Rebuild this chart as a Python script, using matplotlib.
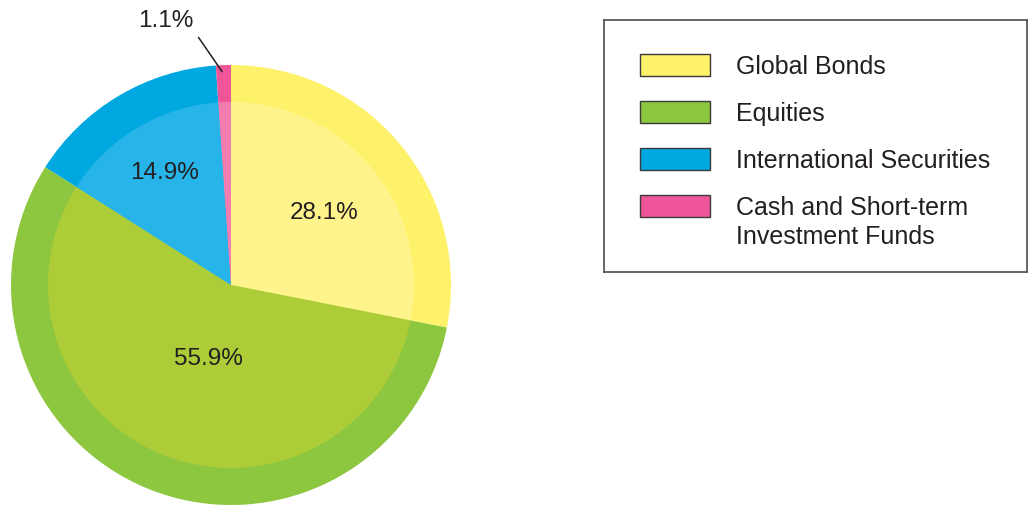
import numpy as np
import matplotlib
matplotlib.use("Agg")
import matplotlib.pyplot as plt
from matplotlib.patches import Rectangle

plt.rcParams["font.family"] = ["Liberation Sans", "DejaVu Sans"]

# Portfolio allocation
categories = ["Global Bonds", "Equities", "International Securities",
              "Cash and Short-term\nInvestment Funds"]
values = [28.1, 55.9, 14.9, 1.1]
pct_labels = ["28.1%", "55.9%", "14.9%", "1.1%"]

outer_colors = ["#FFF26B", "#8DC63F", "#00A8E1", "#EF569A"]
inner_colors = ["#FFF48C", "#ACCD38", "#27B5E9", "#F37DB1"]

W, H = 1028, 507
fig = plt.figure(figsize=(W / 100, H / 100), dpi=100)

# pie axes: centre (231, 285) px, radius 220 px
cx, cy, R = 231, 285, 220
ax = fig.add_axes([(cx - R) / W, (H - cy - R) / H, 2 * R / W, 2 * R / H])

wedge_kw = dict(linewidth=0)
ax.pie(values, colors=outer_colors, startangle=90, counterclock=False,
       radius=1.0, wedgeprops=wedge_kw, frame=True)
inner_r = 183 / 220
ax.pie(values, colors=inner_colors, startangle=90, counterclock=False,
       radius=inner_r, wedgeprops=wedge_kw, frame=True)
ax.set_xlim(-1, 1)
ax.set_ylim(-1, 1)
ax.set_aspect("equal")
ax.axis("off")

# percentage labels, placed along each wedge's bisector
total = sum(values)
label_radius = [0.535, 0.35, 0.59, 1.235]
label_shift = [-2.0, 5.0, 0.0, 12.0]
start = 90.0
mids = []
for v in values:
    span = 360.0 * v / total
    mids.append(start - span / 2)
    start -= span
for lab, m, r, s in zip(pct_labels, mids, label_radius, label_shift):
    a = np.deg2rad(m + s)
    ax.text(r * np.cos(a), r * np.sin(a), lab, ha="center", va="center",
            fontsize=17.5, color="#231F20")

# leader line for the small cash slice
a = np.deg2rad(mids[3])
ax.annotate("", xy=(0.96 * np.cos(a), 0.96 * np.sin(a)), xytext=(-0.155, 1.136),
            arrowprops=dict(arrowstyle="-", color="#231F20", lw=1.1),
            annotation_clip=False)

# legend box
lx0, ly0, lx1, ly1 = 604, 20, 1027, 272
lax = fig.add_axes([lx0 / W, (H - ly1) / H, (lx1 - lx0) / W, (ly1 - ly0) / H])
lax.set_xlim(lx0, lx1)
lax.set_ylim(ly1, ly0)
lax.set_xticks([])
lax.set_yticks([])
for sp in lax.spines.values():
    sp.set_color("#4D4D4D")
    sp.set_linewidth(1.2)

rows_y = [65, 112, 159, 206]
text_kw = dict(ha="left", va="center", fontsize=18, color="#231F20")
for name, col, y in zip(categories, outer_colors, rows_y):
    lax.add_patch(Rectangle((640, y - 11), 70, 22, facecolor=col,
                            edgecolor="#3A3A3A", linewidth=1.0))
    for i, line in enumerate(name.split("\n")):
        lax.text(736, y + 2 + 29 * i, line, **text_kw)

fig.savefig("out.png", dpi=100)
